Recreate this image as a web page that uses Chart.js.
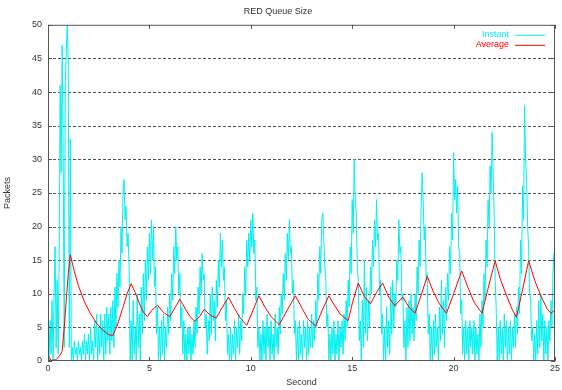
<!DOCTYPE html>
<html>
<head>
<meta charset="utf-8">
<script src="https://cdn.jsdelivr.net/npm/chart.js@4/dist/chart.umd.min.js"></script>
<style>
html,body{margin:0;padding:0;background:#fff;}
#wrap{width:562px;height:390px;position:relative;}
</style>
</head>
<body>
<div id="wrap"><canvas id="c" width="562" height="390"></canvas></div>
<script>
const chartTitle = "RED Queue Size";
const xTitle = "Second";
const yTitle = "Packets";
const seriesNames = ["Instant", "Average"];
const xTicks = [0, 5, 10, 15, 20, 25];
const yTicks = [0, 5, 10, 15, 20, 25, 30, 35, 40, 45, 50];

// Instant queue: sampled every 0.05 s from t = 0 (20 values per second)
const instStart = 0;
const instStep = 0.05;
const instantValues = [
  8,0,6,1,9,0,10,17,2,12,1,15,41,28,47,30,2,41,46,50,
  44,2,33,0,2,0,3,1,2,0,3,1,2,0,3,1,4,0,3,1,
  4,0,5,1,3,0,6,2,7,0,5,1,7,2,6,0,7,1,8,3,
  7,1,8,3,9,2,11,5,13,8,15,11,20,16,25,27,21,23,17,19,
  14,0,6,0,9,1,5,0,10,2,7,0,11,4,13,6,15,9,17,12,
  19,13,21,15,20,11,14,4,8,0,5,0,6,1,7,0,5,2,8,4,
  10,6,13,9,17,13,20,15,17,10,13,5,8,1,6,0,4,0,5,1,
  5,0,4,1,6,2,8,4,11,7,14,10,16,12,13,5,7,1,6,3,
  10,4,11,6,9,3,12,8,15,11,19,14,18,12,14,6,9,1,4,0,
  5,0,4,1,6,0,5,2,7,1,6,3,10,7,14,10,18,14,19,15,
  21,17,22,16,18,9,11,2,5,0,4,0,6,1,5,0,7,2,5,0,
  6,1,4,0,7,2,5,1,8,4,10,7,13,9,16,12,19,15,21,16,
  17,10,12,4,6,0,5,0,6,1,4,0,6,2,5,0,6,1,5,2,
  7,2,6,3,9,5,13,9,17,13,21,22,18,14,12,5,7,0,4,0,
  5,1,6,0,4,1,6,0,5,2,6,1,7,3,9,5,12,8,17,13,
  24,19,30,24,22,14,12,3,6,0,9,2,15,4,11,3,9,5,14,10,
  18,14,21,17,24,18,19,10,12,4,7,0,5,0,8,2,6,1,11,4,
  12,5,10,8,15,12,21,16,17,9,10,2,6,0,8,2,9,3,10,4,
  8,3,10,6,14,10,18,14,23,28,24,18,20,12,13,4,7,0,5,0,
  6,1,7,2,5,0,8,3,12,4,9,2,11,6,13,9,17,13,22,18,
  31,24,27,22,26,17,16,7,9,1,5,0,6,1,5,0,6,2,5,1,
  6,0,5,1,4,0,7,2,9,5,13,9,18,14,24,20,29,25,34,28,
  22,12,8,0,5,0,6,1,5,0,7,2,6,0,5,1,6,0,5,2,
  7,2,8,4,11,7,18,13,26,21,38,30,27,20,17,10,9,3,5,0,
  4,0,6,1,9,2,10,3,7,0,6,1,5,0,6,3,9,5,13,16,
  12
];

// Average queue: times and values at read-off points
const avgTimes = [0,0.15,0.4,0.6,0.7,0.8,0.9,1.0,1.1,1.3,1.5,1.8,2.1,2.4,2.7,3.0,3.2,3.4,3.7,3.9,4.1,4.3,4.5,4.7,4.9,5.1,5.4,5.7,6.0,6.2,6.5,6.8,7.0,7.25,7.5,7.7,8.0,8.3,8.6,8.9,9.2,9.5,9.8,10.1,10.4,10.7,11.0,11.4,11.8,12.2,12.5,12.8,13.2,13.5,13.85,14.1,14.4,14.8,15.0,15.3,15.6,15.9,16.2,16.5,16.8,17.1,17.3,17.5,17.8,18.1,18.4,18.7,19.0,19.3,19.65,20.0,20.4,20.7,21.0,21.4,21.7,22.05,22.3,22.6,22.9,23.1,23.4,23.7,24.0,24.3,24.6,24.8,25.0];
const avgValues = [0.8,0.1,0.2,0.9,1.5,5,9,13,15.8,13.3,11.2,8.8,7,5.6,4.6,3.9,3.8,5.2,8,10,11.5,10.2,8.6,7.3,6.6,7.5,8.3,7.2,6.6,7.6,9.2,7.6,6.6,5.9,6.7,7.7,6.8,6.4,8,9.5,7.8,6.3,5.3,7.5,9.7,8,6.6,5.4,7.6,9.7,8,6.3,5.2,7.4,9.7,8.4,7,6.0,8.5,11.6,9.6,8.5,10.2,11.6,9.5,8.2,8.9,9.5,8,7.1,9.8,12.6,10.3,8.5,7.1,10,13.4,11,8.8,7.1,10.8,14.9,12.2,9.8,7.6,6.5,10.6,14.9,12,9.7,7.8,7.1,7.6];

const instantData = instantValues.map((v, i) => ({x: +(instStart + i * instStep).toFixed(2), y: v}));
const averageData = avgTimes.map((t, i) => ({x: t, y: avgValues[i]}));

const textColor = '#333';
const font = {family: "'Liberation Sans', Arial, sans-serif", size: 9};

const framePlugin = {
  id: 'frame',
  beforeDraw(chart) {
    const ctx = chart.ctx;
    ctx.save();
    ctx.fillStyle = '#fff';
    ctx.fillRect(0, 0, chart.width, chart.height);
    ctx.restore();
  },
  beforeDatasetsDraw(chart) {
    const ctx = chart.ctx;
    const a = chart.chartArea;
    const ys = chart.scales.y;
    ctx.save();
    ctx.strokeStyle = '#555';
    ctx.lineWidth = 1;
    ctx.setLineDash([3, 2]);
    ctx.beginPath();
    yTicks.forEach(v => {
      if (v === 0 || v === 50) return;
      const py = Math.round(ys.getPixelForValue(v)) + 0.5;
      ctx.moveTo(a.left, py); ctx.lineTo(a.right, py);
    });
    ctx.stroke();
    ctx.restore();
  },
  afterDatasetsDraw(chart) {
    const ctx = chart.ctx;
    const a = chart.chartArea;
    const xs = chart.scales.x, ys = chart.scales.y;
    ctx.save();
    ctx.strokeStyle = '#555';
    ctx.lineWidth = 1;
    ctx.strokeRect(a.left + 0.5, a.top + 0.5, a.right - a.left - 1, a.bottom - a.top - 1);
    ctx.beginPath();
    xTicks.forEach(v => {
      const px = Math.round(xs.getPixelForValue(v)) + 0.5;
      ctx.moveTo(px, a.bottom); ctx.lineTo(px, a.bottom - 4);
      ctx.moveTo(px, a.top); ctx.lineTo(px, a.top + 4);
    });
    yTicks.forEach(v => {
      const py = Math.round(ys.getPixelForValue(v)) + 0.5;
      ctx.moveTo(a.left, py); ctx.lineTo(a.left + 4, py);
      ctx.moveTo(a.right, py); ctx.lineTo(a.right - 4, py);
    });
    ctx.stroke();
    // legend (gnuplot style: text then line sample)
    const items = [chart.data.datasets[0], chart.data.datasets[1]];
    ctx.font = "9px 'Liberation Sans', Arial, sans-serif";
    ctx.textAlign = 'right';
    ctx.textBaseline = 'middle';
    items.forEach((ds, i) => {
      const y = a.top + 10 + i * 10;
      ctx.fillStyle = ds.borderColor;
      ctx.fillText(ds.label, a.right - 46, y);
      ctx.strokeStyle = ds.borderColor;
      ctx.beginPath();
      ctx.moveTo(a.right - 40, y + 0.5);
      ctx.lineTo(a.right - 10, y + 0.5);
      ctx.stroke();
    });
    ctx.restore();
  }
};

new Chart(document.getElementById('c'), {
  type: 'line',
  data: {
    datasets: [
      {label: seriesNames[0], data: instantData, borderColor: '#00f0f0', borderWidth: 1, pointRadius: 0, tension: 0, order: 2},
      {label: seriesNames[1], data: averageData, borderColor: '#ff0000', borderWidth: 1, pointRadius: 0, tension: 0, order: 1}
    ]
  },
  options: {
    responsive: false,
    animation: false,
    devicePixelRatio: 1,
    layout: {padding: {left: 0, right: 6, top: 0, bottom: 0}},
    plugins: {
      legend: {display: false},
      tooltip: {enabled: false},
      title: {display: true, text: chartTitle, color: textColor, font: {family: font.family, size: 9, weight: 'normal'}, padding: {top: 6, bottom: 8}}
    },
    scales: {
      x: {
        type: 'linear', min: 0, max: 25,
        afterBuildTicks(s) { s.ticks = xTicks.map(v => ({value: v})); },
        afterFit(s) { s.height = 29; },
        ticks: {color: textColor, font: font, padding: 2, maxRotation: 0},
        grid: {display: false, drawTicks: false},
        border: {display: false},
        title: {display: true, text: xTitle, color: textColor, font: font, padding: {top: 0, bottom: 2}}
      },
      y: {
        min: 0, max: 50,
        afterBuildTicks(s) { s.ticks = yTicks.map(v => ({value: v})); },
        afterFit(s) { s.width = 48; },
        ticks: {color: textColor, font: font, padding: 6},
        grid: {display: false, drawTicks: false},
        border: {display: false},
        title: {display: true, text: yTitle, color: textColor, font: font, padding: {top: 2, bottom: 0}}
      }
    }
  },
  plugins: [framePlugin]
});
</script>
</body>
</html>
